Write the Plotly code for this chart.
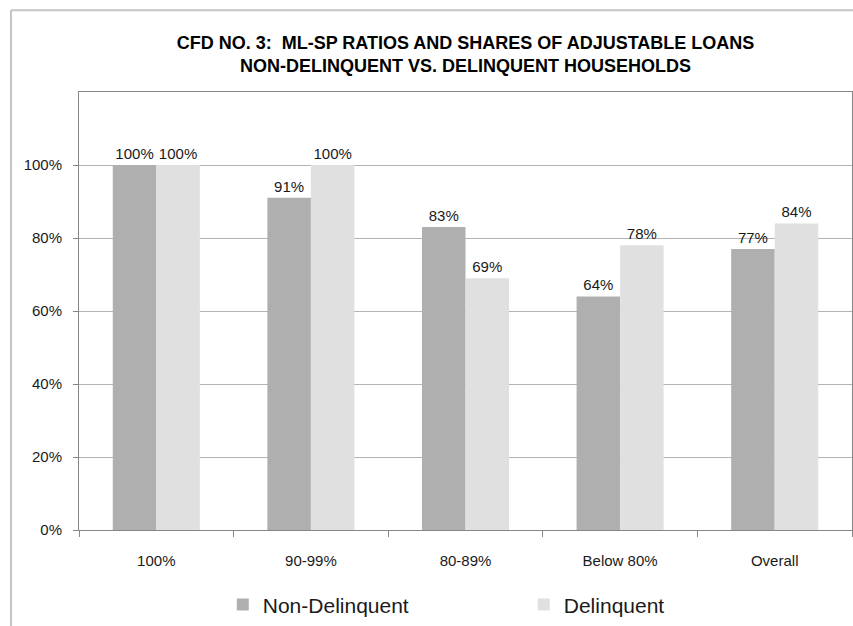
import plotly.graph_objects as go

# Loan-to-price ratio buckets and the share of adjustable loans in each
categories = ["100%", "90-99%", "80-89%", "Below 80%", "Overall"]
non_delinquent = [1.00, 0.91, 0.83, 0.64, 0.77]
delinquent = [1.00, 1.00, 0.69, 0.78, 0.84]
y_ticks = [0, 0.2, 0.4, 0.6, 0.8, 1.0]
y_tick_labels = ["0%", "20%", "40%", "60%", "80%", "100%"]

FONT = "Liberation Sans, Arial, sans-serif"
AXIS_GREY = "#868686"
GRID_GREY = "#b3b3b3"

fig = go.Figure()
fig.add_trace(go.Bar(
    name="Non-Delinquent", x=categories, y=non_delinquent,
    marker=dict(color="#afafaf", line=dict(width=0)),
    text=[f"{v:.0%}" for v in non_delinquent], textposition="outside",
    textfont=dict(size=15, color="#1a1a1a", family=FONT), cliponaxis=False,
))
fig.add_trace(go.Bar(
    name="Delinquent", x=categories, y=delinquent,
    marker=dict(color="#e0e0e0", line=dict(width=0)),
    text=[f"{v:.0%}" for v in delinquent], textposition="outside",
    textfont=dict(size=15, color="#1a1a1a", family=FONT), cliponaxis=False,
))

fig.update_layout(
    width=853, height=626,
    margin=dict(l=79, r=1, t=92, b=89),
    paper_bgcolor="white", plot_bgcolor="white",
    font=dict(family=FONT, size=15, color="#1a1a1a"),
    barmode="group", bargap=0.437, bargroupgap=0,
    title=dict(
        text="CFD NO. 3:  ML-SP RATIOS AND SHARES OF ADJUSTABLE LOANS<br>NON-DELINQUENT VS. DELINQUENT HOUSEHOLDS",
        x=0.5, xref="paper", xanchor="center",
        y=0.922, yref="container", yanchor="middle",
        font=dict(family=FONT, size=18, color="#000000", weight="bold"),
    ),
    legend=dict(
        orientation="h", x=0.186, xanchor="left", y=-0.171, yanchor="middle",
        font=dict(family=FONT, size=21, color="#1a1a1a"),
        entrywidth=256, traceorder="normal", bgcolor="rgba(0,0,0,0)",
    ),
)

fig.update_xaxes(
    type="category", showline=True, linecolor=AXIS_GREY, linewidth=1, mirror=True,
    ticks="outside", tickson="boundaries", ticklen=6, tickcolor=AXIS_GREY,
    ticklabelstandoff=17, showgrid=False, zeroline=False,
    tickfont=dict(size=15, family=FONT, color="#1a1a1a"),
)
fig.update_yaxes(
    range=[0, 1.2], tickvals=y_ticks, ticktext=y_tick_labels,
    showline=True, linecolor=AXIS_GREY, linewidth=1, mirror=True,
    ticks="outside", ticklen=5, tickcolor=AXIS_GREY, ticklabelstandoff=8,
    showgrid=True, gridcolor=GRID_GREY, gridwidth=1, zeroline=False,
    tickfont=dict(size=15, family=FONT, color="#1a1a1a"),
)

# Chart-area frame (left and top edges)
frame = dict(color="#c4c4c4", width=2)
fig.add_shape(type="line", xref="paper", yref="paper",
              x0=-0.088, x1=-0.088, y0=-0.3, y1=1.1865, line=frame)
fig.add_shape(type="line", xref="paper", yref="paper",
              x0=-0.088, x1=1.1, y0=1.1865, y1=1.1865, line=frame)

fig.write_html("out.html")
